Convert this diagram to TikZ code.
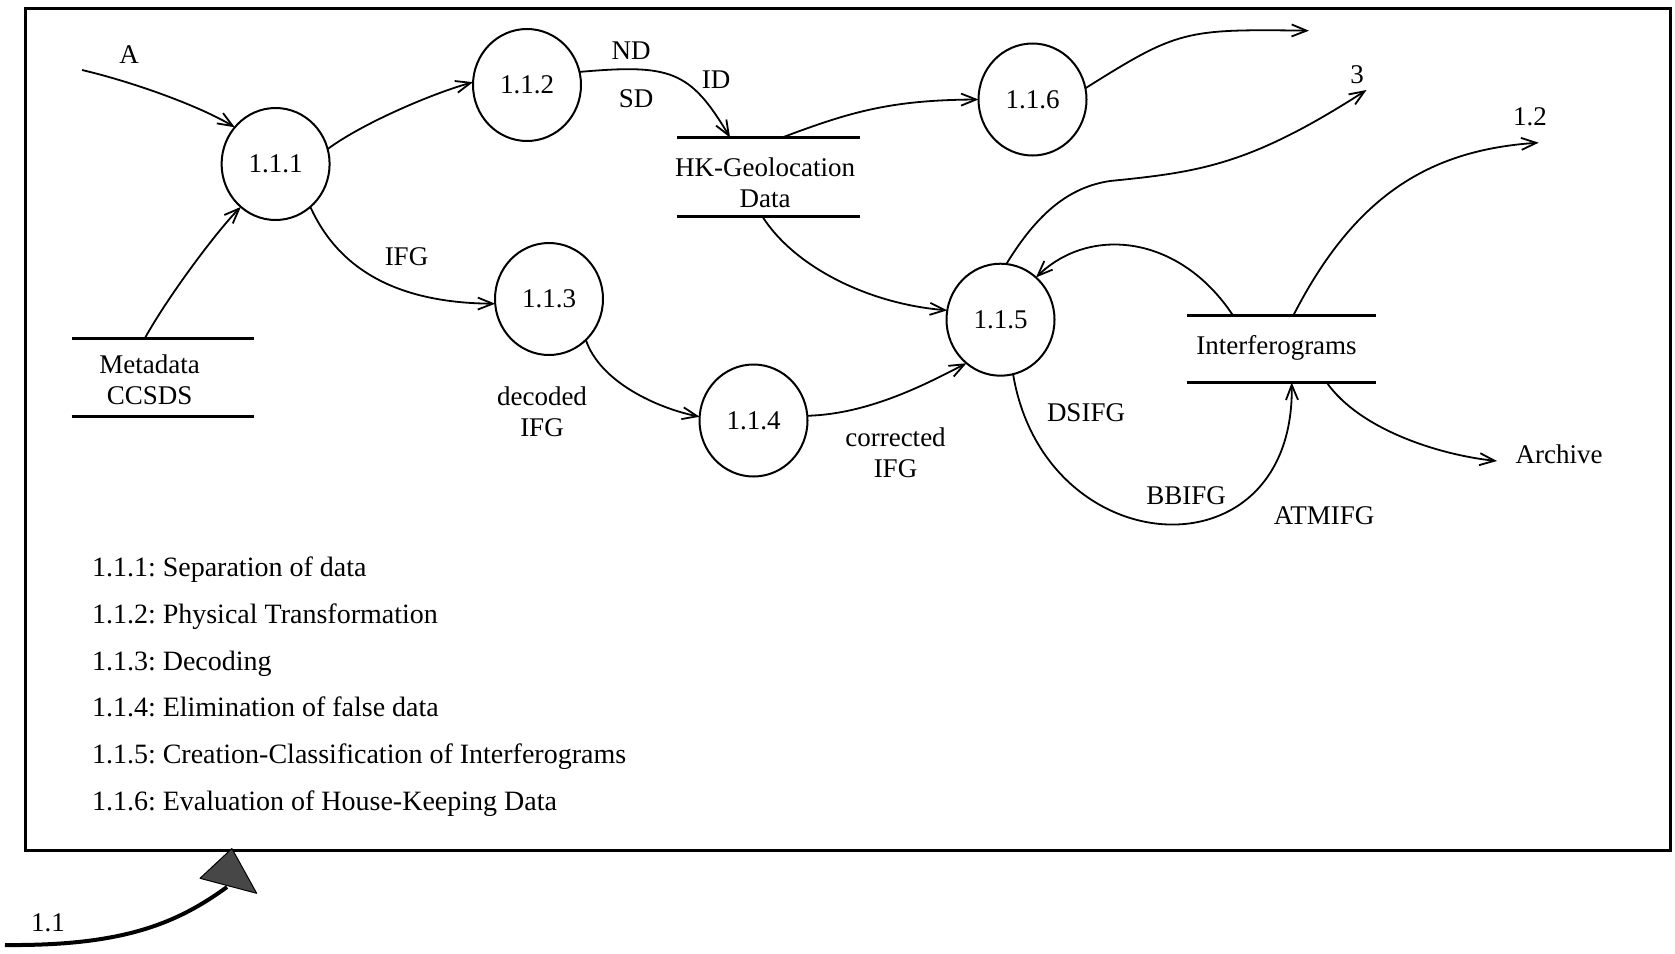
\documentclass[tikz,border=0pt]{standalone}
\usepackage{fontspec}
\setmainfont{Liberation Serif}
\usetikzlibrary{arrows.meta,shapes.geometric,calc}

\begin{document}
\begin{tikzpicture}[x=1pt,y=-1pt,
  every node/.style={font=\fontsize{27}{31}\selectfont, inner sep=0pt, outer sep=0pt},
  proc/.style={ellipse, draw, line width=2pt, minimum width=108pt, minimum height=112pt},
  store/.style={rectangle, inner sep=0pt},
  storetext/.style={align=center, font=\fontsize{27}{31}\selectfont},
  topline/.style={line width=3.5pt},
  botline/.style={line width=3pt},
  flow/.style={line width=1.8pt, -{Straight Barb[length=15pt,width=12pt]}},
  legend/.style={anchor=base west, font=\fontsize{28}{32}\selectfont\frenchspacing}
]
\useasboundingbox (0,0) rectangle (1675,953);

% outer frame of process 1.1
\node[draw, line width=3pt, minimum width=1645pt, minimum height=841.5pt] (frame) at (848.4,429.3) {};

% processes
\node[proc] (p111) at (275.6,164) {1.1.1};
\node[proc] (p112) at (527,85) {1.1.2};
\node[proc] (p113) at (549,299) {1.1.3};
\node[proc] (p114) at (753.5,420.5) {1.1.4};
\node[proc] (p115) at (1000.5,319.7) {1.1.5};
\node[proc] (p116) at (1032.5,99.5) {1.1.6};

% data stores
\node[store, minimum width=182pt, minimum height=78pt,
  label={[storetext, xshift=-13pt, yshift=-2pt]center:{Metadata\\CCSDS}}] (meta) at (162.7,377.5) {};
\node[store, minimum width=182.7pt, minimum height=78.5pt,
  label={[storetext, xshift=-3.5pt, yshift=-5.5pt]center:{HK-Geolocation\\Data}}] (hk) at (768.7,176.8) {};
\node[store, minimum width=189pt, minimum height=67pt,
  label={[storetext, xshift=-5pt, yshift=1.4pt]center:{Interferograms}}] (ifg) at (1281.5,349) {};
\foreach \s in {meta,hk,ifg}{
  \draw[topline] (\s.north west) -- (\s.north east);
  \draw[botline] (\s.south west) -- (\s.south east);
}

% free ends of flows
\coordinate (ain) at (82,70);
\coordinate (o116) at (1309,30.7);
\coordinate (o3) at (1366.5,90);
\coordinate (o12) at (1538.7,142.7);
\coordinate (oarch) at (1497,461);

% data flows
\draw[flow] (ain) .. controls +(55,13) and +(-33,-20) .. (p111.138);
\draw[flow] ($(meta.north west)+(73,0)$) .. controls +(25,-45) and +(-22,22) .. (p111.231);
\draw[flow] (p111.16) .. controls +(35,-26) and +(-40,11) .. (p112.177);
\draw[flow] (p112.14) .. controls (670,64) and (690,70) .. ($(hk.north west)+(52.7,0)$);
\draw[flow] (p111.309) .. controls (338,268) and (395,303) .. (p113.185);
\draw[flow] (p113.312) .. controls (600,382) and (657,408) .. (p114.176);
\draw[flow] (p114.5) .. controls (870,414) and (928,383) .. (p115.232);
\draw[flow] ($(hk.south west)+(84.7,0)$) .. controls (795,268) and (870,304) .. (p115.170);
\draw[flow] ($(hk.north west)+(104.7,0)$) .. controls (850,112) and (890,100) .. (p116.180);
\draw[flow] (p116.12) .. controls (1178,30) and (1185,29) .. (o116);
\draw[flow] (p115.84) .. controls (1038,212) and (1070,187) .. (1110,181)
                      .. controls (1200,172) and (1250,165) .. (o3);
\draw[flow] ($(ifg.north west)+(46,0)$) .. controls (1180,235) and (1090,225) .. (p115.50);
\draw[flow] ($(ifg.north west)+(106.3,0)$) .. controls (1355,195) and (1430,150) .. (o12);
\draw[flow] ($(ifg.south west)+(139.7,0)$) .. controls (1360,430) and (1440,455) .. (oarch);
\draw[flow] (p115.283) .. controls (1045,565) and (1295,580) .. ($(ifg.south west)+(104.7,0)$);

% flow labels
\node (lA) at (129,55) {A};
\node (lND) at (631,51) {ND};
\node (lSD) at (636,99) {SD};
\node (lID) at (716,80) {ID};
\node (lIFG) at (406.5,256.7) {IFG};
\node[align=center] (ldec) at (542,412) {decoded\\IFG};
\node[align=center] (lcor) at (895.5,453) {corrected\\IFG};
\node (lDS) at (1086,413) {DSIFG};
\node (lBB) at (1186,496) {BBIFG};
\node (lATM) at (1324,516) {ATMIFG};
\node (l3) at (1357,75) {3};
\node (l12) at (1530,116.7) {1.2};
\node (larch) at (1559,454.5) {Archive};

% legend
\foreach \t [count=\i] in {{1.1.1: Separation of data},
                           {1.1.2: Physical Transformation},
                           {1.1.3: Decoding},
                           {1.1.4: Elimination of false data},
                           {1.1.5: Creation-Classification of Interferograms},
                           {1.1.6: Evaluation of House-Keeping Data}}
  \node[legend] (leg\i) at ({92},{576.7+46.67*(\i-1)}) {\t};

% reference to the parent process 1.1
\node (l11) at (48,922.5) {1.1};
\coordinate (s11) at (5,945);
\coordinate (t11) at (227,887);
\coordinate (tip11) at ($(frame.south west)+(206,-1.5)$);
\draw[line width=4pt] (s11) .. controls (120,946) and (175,925) .. (t11);
\filldraw[fill=black!72, line width=1pt, line join=round] (200,878.3) -- (tip11) -- (256.7,893.3) -- cycle;
\end{tikzpicture}
\end{document}
